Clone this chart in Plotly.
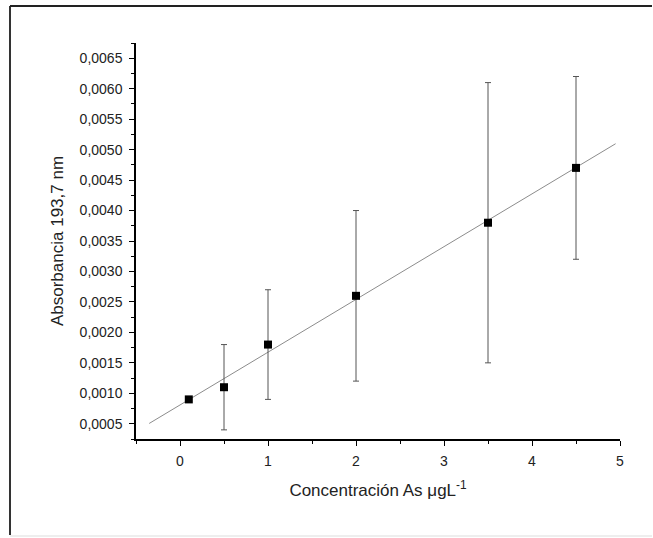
import numpy as np
import plotly.graph_objects as go

# Data
conc = [0.1, 0.5, 1.0, 2.0, 3.5, 4.5]
absorb = [0.0009, 0.0011, 0.0018, 0.0026, 0.0038, 0.0047]
abs_err = [0.0, 0.0007, 0.0009, 0.0014, 0.0023, 0.0015]
fit_x_ext = [-0.35, 4.95]

slope, intercept = np.polyfit(conc, absorb, 1)
fit_x = np.array(fit_x_ext)
fit_y = intercept + slope * fit_x

W, H = 653, 538
L, R, T, B = 136, 33, 43, 99
pw, ph = W - L - R, H - T - B

def px(xp):
    return (xp - L) / pw

def py(yp):
    return (H - B - yp) / ph

fig = go.Figure()
fig.add_trace(go.Scatter(x=fit_x, y=fit_y, mode="lines",
                         line=dict(color="#8c8c8c", width=1), showlegend=False))
fig.add_trace(go.Scatter(x=conc, y=absorb, mode="markers",
                         marker=dict(symbol="square", size=8, color="black"),
                         error_y=dict(type="data", array=abs_err, visible=True,
                                      color="#555555", thickness=1, width=3),
                         showlegend=False))

font_family = "Liberation Sans, Arial, sans-serif"
fig.update_layout(
    width=W, height=H,
    margin=dict(l=L, r=R, t=T, b=B, autoexpand=False),
    paper_bgcolor="white", plot_bgcolor="white",
    separators=",.",
    font=dict(family=font_family, color="#222222", size=14),
    xaxis=dict(range=[-0.5, 5], dtick=1, tick0=0, showgrid=False, zeroline=False,
               showline=True, linecolor="black", linewidth=1.5,
               ticks="outside", ticklen=5, tickwidth=1.2, tickcolor="black",
               ticklabelstandoff=3,
               minor=dict(dtick=0.5, tick0=0, ticks="outside", ticklen=3,
                          tickcolor="black", tickwidth=1.2, showgrid=False),
               tickfont=dict(size=14),
               title=dict(text="Concentración As μgL<sup>-1</sup>",
                          font=dict(size=17), standoff=17)),
    yaxis=dict(range=[0.00025, 0.00675], dtick=0.0005, tick0=0, showgrid=False,
               zeroline=False, showline=True, linecolor="black", linewidth=1.5,
               ticks="outside", ticklen=5, tickwidth=1.2, tickcolor="black",
               tickformat=".4f", ticklabelstandoff=4,
               minor=dict(dtick=0.00025, tick0=0, ticks="outside", ticklen=3,
                          tickcolor="black", tickwidth=1.2, showgrid=False),
               tickfont=dict(size=14),
               title=dict(text="Absorbancia 193,7 nm", font=dict(size=17),
                          standoff=12)),
    shapes=[
        dict(type="line", xref="paper", yref="paper", x0=px(10), x1=px(10),
             y0=py(6), y1=py(535), line=dict(color="#333333", width=2)),
        dict(type="line", xref="paper", yref="paper", x0=px(10), x1=px(652),
             y0=py(6), y1=py(6), line=dict(color="#222222", width=2)),
        dict(type="line", xref="paper", yref="paper", x0=px(10), x1=px(652),
             y0=py(536), y1=py(536), line=dict(color="#dddddd", width=1)),
    ],
)

fig.write_html("out.html", config={"displayModeBar": False},
               post_script="document.body.style.margin='0';document.body.style.overflow='hidden';")
